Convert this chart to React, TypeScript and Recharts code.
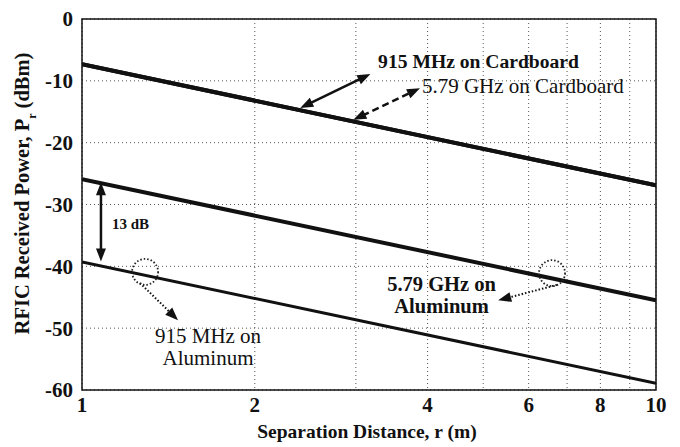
import React from 'react';
import {
  LineChart,
  Line,
  XAxis,
  YAxis,
  CartesianGrid,
  ReferenceLine,
  ReferenceDot,
  ReferenceArea,
} from 'recharts';

// Separation distance r (m)
const distances = [1, 10];
// Received power (dBm) at each distance
const cardboard915 = [-7.3, -26.9];
const cardboard579 = [-7.3, -26.9];
const aluminum579 = [-25.9, -45.5];
const aluminum915 = [-39.3, -58.9];

const xTicks = [1, 2, 3, 4, 5, 6, 7, 8, 9, 10];
const xLabeled = [1, 2, 4, 6, 8, 10];
const yTicks = [-60, -50, -40, -30, -20, -10, 0];

const data = distances.map((r, i) => ({
  r,
  c915: cardboard915[i],
  c579: cardboard579[i],
  a579: aluminum579[i],
  a915: aluminum915[i],
}));

const FONT = '"Liberation Serif", "Times New Roman", serif';

const head = (x: number, y: number, fx: number, fy: number, len = 13, w = 5) => {
  const dx = x - fx;
  const dy = y - fy;
  const d = Math.hypot(dx, dy) || 1;
  const ux = dx / d;
  const uy = dy / d;
  const bx = x - ux * len;
  const by = y - uy * len;
  return `${x},${y} ${bx - uy * w},${by + ux * w} ${bx + uy * w},${by - ux * w}`;
};

const makeArrow = (dash: string | undefined, both: boolean, width = 2.5) => (props: any) => {
  const { x1, y1, x2, y2 } = props;
  const dx = x2 - x1;
  const dy = y2 - y1;
  const d = Math.hypot(dx, dy) || 1;
  const ux = dx / d;
  const uy = dy / d;
  const sx = both ? x1 + ux * 10 : x1;
  const sy = both ? y1 + uy * 10 : y1;
  const ex = x2 - ux * 10;
  const ey = y2 - uy * 10;
  return (
    <g>
      <line x1={sx} y1={sy} x2={ex} y2={ey} stroke="#111" strokeWidth={width} strokeDasharray={dash} />
      <polygon points={head(x2, y2, x1, y1)} fill="#111" />
      {both && <polygon points={head(x1, y1, x2, y2)} fill="#111" />}
    </g>
  );
};

const textShape = (text: string, bold: boolean, size: number, anchor: 'start' | 'middle') => (props: any) => {
  const { cx, cy } = props;
  return (
    <text
      x={cx}
      y={cy}
      fontFamily={FONT}
      fontSize={size}
      fontWeight={bold ? 'bold' : 'normal'}
      fill="#111"
      textAnchor={anchor}
    >
      {text}
    </text>
  );
};

const circleShape = (props: any) => {
  const { cx, cy } = props;
  return <circle cx={cx} cy={cy} r={13} fill="none" stroke="#222" strokeWidth={1.8} strokeDasharray="1.5 2" />;
};

const YLabel = (props: any) => {
  const vb = props.viewBox || { x: 0, y: 19, width: 82, height: 371 };
  const cx = 29;
  const cy = vb.y + vb.height / 2 - 11;
  return (
    <text
      x={cx}
      y={cy}
      transform={`rotate(-90, ${cx}, ${cy})`}
      textAnchor="middle"
      fontFamily={FONT}
      fontSize={20.5}
      fontWeight="bold"
      fill="#111"
    >
      RFIC Received Power, P
      <tspan baselineShift="sub" fontSize={12}>r</tspan>
      <tspan> (dBm)</tspan>
    </text>
  );
};

const XLabel = (props: any) => {
  const vb = props.viewBox || { x: 82, y: 390, width: 574, height: 57 };
  return (
    <text
      x={vb.x + vb.width / 2 - 2}
      y={438}
      textAnchor="middle"
      fontFamily={FONT}
      fontSize={19.5}
      fontWeight="bold"
      fill="#111"
    >
      Separation Distance, r (m)
    </text>
  );
};

const tickStyle = { fontFamily: FONT, fontSize: 21, fontWeight: 'bold', fill: '#111' } as any;

export default function App() {
  return (
    <div style={{ position: 'absolute', left: 0, top: 0, background: '#fff' }}>
      <LineChart
        width={680}
        height={447}
        data={data}
        margin={{ top: 19, right: 24, bottom: 0, left: 0 }}
      >
        <CartesianGrid stroke="#555" strokeDasharray="1 3" strokeWidth={1} />
        <XAxis
          dataKey="r"
          type="number"
          scale="log"
          domain={[1, 10]}
          ticks={xTicks}
          tickFormatter={(v: number) => (xLabeled.includes(v) ? String(v) : '')}
          allowDataOverflow
          height={57}
          tickLine={false}
          axisLine={false}
          tickSize={0}
          tickMargin={7}
          tick={tickStyle}
          interval={0}
          label={<XLabel />}
        />
        <YAxis
          type="number"
          domain={[-60, 0]}
          ticks={yTicks}
          width={82}
          tickLine={false}
          axisLine={false}
          tickSize={0}
          tickMargin={9}
          tick={tickStyle}
          interval={0}
          label={<YLabel />}
        />
        <ReferenceArea x1={1} x2={10} y1={-60} y2={0} fill="none" stroke="#111" strokeWidth={1.5} ifOverflow="visible" />
        <Line dataKey="c579" stroke="#111" strokeWidth={4} dot={false} isAnimationActive={false} />
        <Line dataKey="c915" stroke="#111" strokeWidth={4} dot={false} isAnimationActive={false} />
        <Line dataKey="a579" stroke="#111" strokeWidth={4} dot={false} isAnimationActive={false} />
        <Line dataKey="a915" stroke="#111" strokeWidth={3} dot={false} isAnimationActive={false} />

        <ReferenceLine segment={[{ x: 2.4, y: -14.4 }, { x: 3.18, y: -8.9 }]} shape={makeArrow(undefined, true)} ifOverflow="visible" />
        <ReferenceLine segment={[{ x: 2.97, y: -16.3 }, { x: 3.88, y: -11.2 }]} shape={makeArrow('7 4', true)} ifOverflow="visible" />
        <ReferenceLine segment={[{ x: 1.079, y: -26.4 }, { x: 1.079, y: -39.2 }]} shape={makeArrow(undefined, true)} ifOverflow="visible" />
        <ReferenceLine segment={[{ x: 1.262, y: -42.7 }, { x: 1.47, y: -48.7 }]} shape={makeArrow('1.5 2', false, 2)} ifOverflow="visible" />
        <ReferenceLine segment={[{ x: 6.72, y: -43.0 }, { x: 5.31, y: -45.5 }]} shape={makeArrow('1.5 2', false, 2)} ifOverflow="visible" />

        <ReferenceDot x={1.288} y={-40.9} r={13} shape={circleShape} ifOverflow="visible" />
        <ReferenceDot x={6.59} y={-41.1} r={13} shape={circleShape} ifOverflow="visible" />

        <ReferenceDot x={3.28} y={-7.9} r={0} shape={textShape('915 MHz on Cardboard', true, 19.6, 'start')} ifOverflow="visible" />
        <ReferenceDot x={3.91} y={-12.0} r={0} shape={textShape('5.79 GHz on Cardboard', false, 21, 'start')} ifOverflow="visible" />
        <ReferenceDot x={1.128} y={-34.0} r={0} shape={textShape('13 dB', true, 15, 'start')} ifOverflow="visible" />
        <ReferenceDot x={1.658} y={-52.4} r={0} shape={textShape('915 MHz on', false, 21, 'middle')} ifOverflow="visible" />
        <ReferenceDot x={1.658} y={-56.0} r={0} shape={textShape('Aluminum', false, 21, 'middle')} ifOverflow="visible" />
        <ReferenceDot x={4.23} y={-44.0} r={0} shape={textShape('5.79 GHz on', true, 20.5, 'middle')} ifOverflow="visible" />
        <ReferenceDot x={4.23} y={-47.6} r={0} shape={textShape('Aluminum', true, 20.5, 'middle')} ifOverflow="visible" />
      </LineChart>
    </div>
  );
}
